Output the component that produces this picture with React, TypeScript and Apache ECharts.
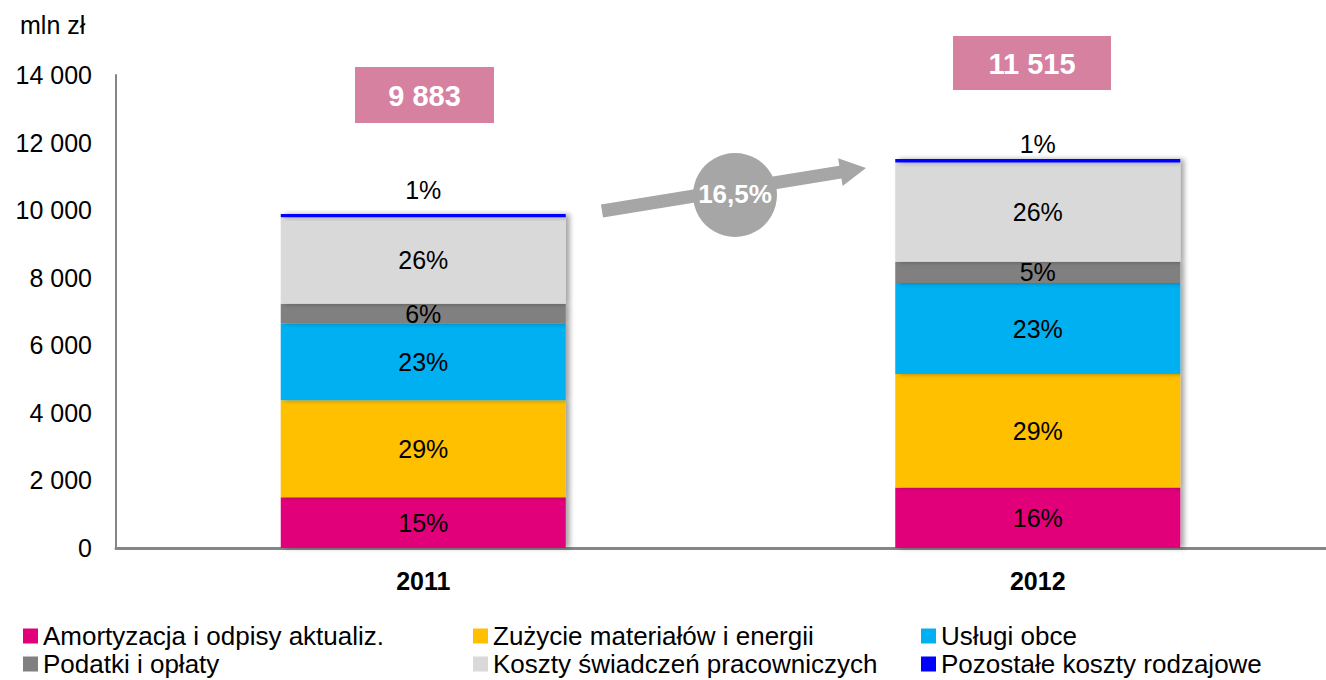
import React, { useEffect, useRef } from "react";
import * as echarts from "echarts";

const years = ["2011", "2012"];
const seriesNames = [
  "Amortyzacja i odpisy aktualiz.",
  "Zużycie materiałów i energii",
  "Usługi obce",
  "Podatki i opłaty",
  "Koszty świadczeń pracowniczych",
  "Pozostałe koszty rodzajowe",
];
const amortyzacja = [1500, 1790];
const zuzycie = [2870, 3360];
const uslugi = [2280, 2690];
const podatki = [580, 630];
const koszty = [2560, 2940];
const pozostale = [93, 105];
const growthLabel = "16,5%";
const yTicks = [0, 2000, 4000, 6000, 8000, 10000, 12000, 14000];

const colors = ["#E2007A", "#FFC000", "#00B0F0", "#808080", "#D9D9D9", "#0000FF"];
const FONT = "'Liberation Sans', Arial, sans-serif";

const fmt = (v: number) => String(v).replace(/\B(?=(\d{3})+(?!\d))/g, " ");

export default function App() {
  const ref = useRef<HTMLDivElement>(null);
  useEffect(() => {
    if (!ref.current) return;
    const chart = echarts.init(ref.current, null, { renderer: "svg" });
    const values = [amortyzacja, zuzycie, uslugi, podatki, koszty, pozostale];
    const totals = years.map((_, i) => values.reduce((s, arr) => s + arr[i], 0));
    const topGap = [12, 2];

    const series: any[] = values.map((arr, si) => ({
      name: seriesNames[si],
      type: "bar",
      stack: "total",
      barWidth: 285,
      itemStyle: {
        color: colors[si],
        shadowColor: "rgba(0,0,0,0.35)",
        shadowBlur: 5,
        shadowOffsetX: 4,
      },
      label: {
        show: true,
        position: si === 5 ? "top" : "inside",
        color: "#000",
        fontSize: 25,
        fontFamily: FONT,
        formatter: (p: any) => Math.round((p.value / totals[p.dataIndex]) * 100) + "%",
      },
      data: arr.map((v, i) =>
        si === 5 ? { value: v, label: { distance: topGap[i] } } : v
      ),
    }));

    // arrow geometry
    const sx = 602, sy = 211, tx = 866, ty = 168;
    const dx = tx - sx, dy = ty - sy;
    const len = Math.sqrt(dx * dx + dy * dy);
    const ux = dx / len, uy = dy / len;
    const nx = -uy, ny = ux;
    const hw = 6.5, hh = 14, hl = 26;
    const bx = tx - ux * hl, by = ty - uy * hl;
    const arrowPts = [
      [sx + nx * hw, sy + ny * hw],
      [bx + nx * hw, by + ny * hw],
      [bx + nx * hh, by + ny * hh],
      [tx, ty],
      [bx - nx * hh, by - ny * hh],
      [bx - nx * hw, by - ny * hw],
      [sx - nx * hw, sy - ny * hw],
    ];

    const legendLefts = [23, 473, 921, 23, 473, 921];
    const legendTops = [623, 623, 623, 651, 651, 651];
    const legends = seriesNames.map((n, i) => ({
      left: legendLefts[i],
      top: legendTops[i],
      itemWidth: 15,
      itemHeight: 15,
      icon: "rect",
      padding: 0,
      itemGap: 0,
      data: [n],
      textStyle: { fontSize: 26, color: "#000", fontFamily: FONT, padding: [0, 0, 0, 0] },
    }));

    chart.setOption({
      animation: false,
      textStyle: { fontFamily: FONT },
      grid: {
        left: 116,
        top: 75,
        height: 473,
        width: 1229,
        containLabel: false,
        outerBoundsMode: "none",
      },
      xAxis: {
        type: "category",
        data: years,
        axisLine: { lineStyle: { color: "#868686", width: 3 } },
        axisTick: { show: false },
        axisLabel: { fontSize: 25, fontWeight: "bold", color: "#000", margin: 20, fontFamily: FONT },
      },
      yAxis: {
        type: "value",
        min: yTicks[0],
        max: yTicks[yTicks.length - 1],
        interval: yTicks[1] - yTicks[0],
        splitLine: { show: false },
        axisLine: { show: true, lineStyle: { color: "#868686", width: 2 } },
        axisTick: { show: false },
        axisLabel: { fontSize: 25, color: "#000", margin: 24, formatter: fmt, fontFamily: FONT },
      },
      legend: legends,
      graphic: [
        {
          type: "text",
          left: 20,
          top: 12,
          style: { text: "mln zł", fill: "#000", font: `25px ${FONT}` },
        },
        {
          type: "rect",
          shape: { x: 355, y: 67, width: 139, height: 56 },
          style: { fill: "#D5819F" },
        },
        {
          type: "text",
          x: 424.5,
          y: 96,
          style: {
            text: fmt(totals[0]),
            fill: "#fff",
            font: `bold 29px ${FONT}`,
            align: "center",
            verticalAlign: "middle",
          },
        },
        {
          type: "rect",
          shape: { x: 953, y: 36, width: 158, height: 54 },
          style: { fill: "#D5819F" },
        },
        {
          type: "text",
          x: 1032,
          y: 64,
          style: {
            text: fmt(totals[1]),
            fill: "#fff",
            font: `bold 29px ${FONT}`,
            align: "center",
            verticalAlign: "middle",
          },
        },
        {
          type: "polygon",
          shape: { points: arrowPts },
          style: { fill: "#A6A6A6" },
        },
        {
          type: "circle",
          shape: { cx: 735, cy: 195, r: 42 },
          style: { fill: "#A6A6A6" },
        },
        {
          type: "text",
          x: 735,
          y: 194,
          style: {
            text: growthLabel,
            fill: "#fff",
            font: `bold 26px ${FONT}`,
            align: "center",
            verticalAlign: "middle",
          },
        },
      ],
      series,
    });
    return () => chart.dispose();
  }, []);
  return (
    <div
      ref={ref}
      style={{ position: "fixed", left: 0, top: 0, width: 1326, height: 680, background: "#fff" }}
    />
  );
}
